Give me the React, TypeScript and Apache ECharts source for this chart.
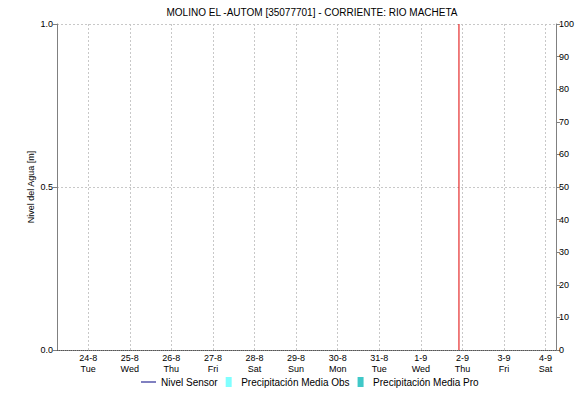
import React, { useEffect, useRef } from "react";
import * as echarts from "echarts";

const TITLE = "MOLINO EL -AUTOM [35077701] - CORRIENTE: RIO MACHETA";
// hours since 24-8 00:00
const dayTicks = [0, 24, 48, 72, 96, 120, 144, 168, 192, 216, 240, 264];
const dayLabels = ["24-8", "25-8", "26-8", "27-8", "28-8", "29-8", "30-8", "31-8", "1-9", "2-9", "3-9", "4-9"];
const weekdayLabels = ["Tue", "Wed", "Thu", "Fri", "Sat", "Sun", "Mon", "Tue", "Wed", "Thu", "Fri", "Sat"];
const xMin = -18;
const xMax = 270;
const nowHour = 214;
// no data recorded in the window
const nivelSensor: [number, number][] = [];
const precipObs: [number, number][] = [];
const precipPro: [number, number][] = [];

const FONT = "Liberation Sans, Arial, sans-serif";

export default function App() {
  const ref = useRef<HTMLDivElement>(null);
  useEffect(() => {
    if (!ref.current) return;
    const chart = echarts.init(ref.current, null, { renderer: "svg" });
    const labelMap: Record<number, string> = {};
    dayTicks.forEach((t, i) => (labelMap[t] = dayLabels[i] + "\n" + weekdayLabels[i]));
    chart.setOption({
      animation: false,
      textStyle: { fontFamily: FONT },
      title: {
        text: TITLE,
        left: 307,
        textAlign: "center",
        top: 2,
        textStyle: { fontSize: 10, fontWeight: "normal", color: "#000", fontFamily: FONT },
      },
      legend: {
        top: 372,
        left: 136,
        itemWidth: 15,
        itemHeight: 10,
        itemGap: 8,
        textStyle: { fontSize: 10, color: "#000", fontFamily: FONT },
        data: [
          { name: "Nivel Sensor", icon: "path://M0,4.5h15v1h-15z", itemStyle: { color: "#000080" } },
          { name: "Precipitación Media Obs", icon: "path://M0,0h6v10h-6z", itemStyle: { color: "#80ffff" } },
          { name: "Precipitación Media Pro", icon: "path://M0,0h6v10h-6z", itemStyle: { color: "#40c8c8" } },
        ],
      },
      grid: { left: 57, right: 19, top: 24, bottom: 53, containLabel: false },
      xAxis: {
        type: "value",
        min: xMin,
        max: xMax,
        axisLine: { show: true, onZero: false, lineStyle: { color: "#555", type: [1, 1], width: 1 } },
        axisTick: { show: false, customValues: dayTicks },
        axisLabel: {
          customValues: dayTicks,
          formatter: (v: number) => labelMap[v] ?? "",
          fontSize: 9,
          color: "#000",
          lineHeight: 11,
          margin: 2,
        },
        splitLine: { show: false },
      },
      yAxis: [
        {
          type: "value",
          min: 0,
          max: 1,
          interval: 0.5,
          name: "Nivel del Agua [m]",
          nameLocation: "middle",
          nameGap: 22,
          nameMoveOverlap: false,
          nameTextStyle: { fontSize: 9, color: "#000", fontFamily: FONT },
          axisLine: { show: true, onZero: false, lineStyle: { color: "#808080" } },
          axisTick: { show: true, length: 4, lineStyle: { color: "#808080" } },
          axisLabel: { formatter: (v: number) => v.toFixed(1), fontSize: 9, color: "#000", margin: 4 },
          splitLine: { show: true, lineStyle: { color: "#c8c8c8", type: [2, 2] } },
        },
        {
          type: "value",
          min: 0,
          max: 100,
          interval: 10,
          position: "right",
          axisLine: { show: true, onZero: false, lineStyle: { color: "#808080" } },
          axisTick: { show: true, length: 4, lineStyle: { color: "#808080" } },
          axisLabel: { fontSize: 9, color: "#000", margin: 3 },
          splitLine: { show: false },
        },
      ],
      series: [
        {
          name: "grid",
          type: "line",
          data: [],
          markLine: {
            silent: true,
            symbol: ["none", "none"],
            label: { show: false },
            lineStyle: { color: "#c8c8c8", type: [2, 2], width: 1 },
            data: dayTicks.map((t) => ({ xAxis: t })),
          },
        },
        {
          name: "Ahora",
          type: "line",
          data: [
            [nowHour, 0],
            [nowHour, 1],
          ],
          showSymbol: false,
          silent: true,
          z: 5,
          lineStyle: { color: "#e00000", width: 1, type: "solid" },
          itemStyle: { color: "#e00000" },
        },
        { name: "Nivel Sensor", type: "line", data: nivelSensor, showSymbol: false, lineStyle: { color: "#000080" }, itemStyle: { color: "#000080" } },
        { name: "Precipitación Media Obs", type: "bar", yAxisIndex: 1, data: precipObs, itemStyle: { color: "#80ffff" } },
        { name: "Precipitación Media Pro", type: "bar", yAxisIndex: 1, data: precipPro, itemStyle: { color: "#40c8c8" } },
      ],
    });
    return () => chart.dispose();
  }, []);
  return <div ref={ref} style={{ width: 577, height: 403, position: "absolute", left: 0, top: 0 }} />;
}
